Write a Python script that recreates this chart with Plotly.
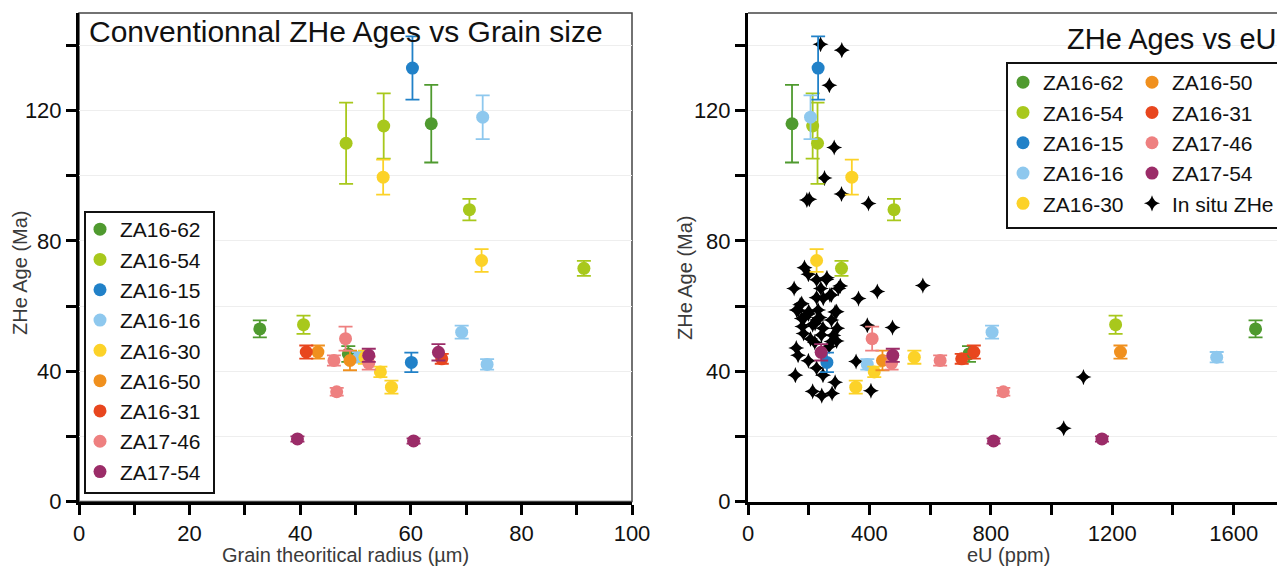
import plotly.graph_objects as go

FONT = "Liberation Sans, Arial, sans-serif"

# ---------------- data ----------------
samples = ["ZA16-62", "ZA16-54", "ZA16-15", "ZA16-16", "ZA16-30",
           "ZA16-50", "ZA16-31", "ZA17-46", "ZA17-54"]
colors = ["#4f9a2f", "#a8c81c", "#2181c8", "#8ec8ee", "#fcd228",
          "#f0901e", "#e8461e", "#ee8080", "#9b2c68"]

za16_62_age = [53.0, 45.3, 116.0]
za16_62_err = [2.6, 2.4, 11.9]
za16_62_radius = [32.7, 48.7, 63.7]
za16_62_eu = [1672, 728, 145]

za16_54_age = [110.0, 115.3, 89.6, 71.6, 54.3]
za16_54_err = [12.5, 10.0, 3.3, 2.3, 2.8]
za16_54_radius = [48.3, 55.1, 70.6, 91.3, 40.6]
za16_54_eu = [229, 213, 481, 308, 1211]

za16_15_age = [133.1, 42.7]
za16_15_err = [9.7, 3.0]
za16_15_radius = [60.3, 60.1]
za16_15_eu = [231, 260]

za16_16_age = [118.0, 52.0, 42.1, 44.3]
za16_16_err = [6.7, 2.0, 1.6, 1.6]
za16_16_radius = [73.0, 69.2, 73.8, 50.6]
za16_16_eu = [206, 804, 393, 1544]

za16_30_age = [99.6, 74.0, 39.8, 35.1, 44.3]
za16_30_err = [5.4, 3.5, 1.6, 2.0, 2.0]
za16_30_radius = [55.0, 72.8, 54.5, 56.5, 51.7]
za16_30_eu = [342, 226, 416, 355, 548]

za16_50_age = [45.9, 43.3]
za16_50_err = [2.0, 3.0]
za16_50_radius = [43.2, 49.0]
za16_50_eu = [1227, 443]

za16_31_age = [45.9, 43.8]
za16_31_err = [2.0, 1.5]
za16_31_radius = [41.1, 65.6]
za16_31_eu = [744, 704]

za17_46_age = [50.0, 43.3, 33.7, 42.5]
za17_46_err = [3.7, 1.6, 1.2, 2.0]
za17_46_radius = [48.2, 46.1, 46.6, 52.4]
za17_46_eu = [409, 633, 841, 473]

za17_54_age = [19.2, 18.6, 45.8, 44.9]
za17_54_err = [0.8, 0.8, 2.5, 2.0]
za17_54_radius = [39.5, 60.5, 65.0, 52.4]
za17_54_eu = [1166, 809, 241, 477]

insitu_eu = [239, 309, 268, 284, 252, 202, 194, 308, 397,
             186, 199, 226, 260, 152, 240, 270, 304, 298, 226, 172, 165, 199,
             186, 236, 287, 179, 213, 247, 294, 281, 159, 165, 206, 220, 292,
             267, 199, 226, 156, 247, 287, 213, 243, 277,
             221, 242, 183, 275, 258, 231, 160, 275, 227, 248, 275, 177, 200,
             292, 177,
             576, 426, 364, 1105, 1040, 405, 356, 393, 476]
insitu_age = [140.4, 138.6, 127.8, 108.7, 99.3, 92.8, 92.6, 94.4, 91.5,
              71.8, 69.8, 68.1, 68.7, 65.4, 65.4, 63.4, 66.2, 65.4, 62.6, 60.4,
              58.7, 57.6, 56.5, 56.5, 58.2, 53.7, 54.3, 53.2, 53.2, 51.0, 47.1,
              44.9, 49.9, 48.8, 49.3, 47.6, 43.2, 41.0, 38.8, 38.8, 36.6, 33.8,
              32.5, 33.2,
              54.7, 51.1, 51.6, 49.1, 68.2, 58.8, 58.8, 55.7, 55.7, 62.4, 63.4,
              60.8, 58.3, 58.3, 56.2,
              66.3, 64.5, 62.3, 38.2, 22.5, 34.0, 43.0, 54.1, 53.4]

ages = [za16_62_age, za16_54_age, za16_15_age, za16_16_age, za16_30_age,
        za16_50_age, za16_31_age, za17_46_age, za17_54_age]
errs = [za16_62_err, za16_54_err, za16_15_err, za16_16_err, za16_30_err,
        za16_50_err, za16_31_err, za17_46_err, za17_54_err]
radii = [za16_62_radius, za16_54_radius, za16_15_radius, za16_16_radius,
         za16_30_radius, za16_50_radius, za16_31_radius, za17_46_radius,
         za17_54_radius]
eus = [za16_62_eu, za16_54_eu, za16_15_eu, za16_16_eu, za16_30_eu,
       za16_50_eu, za16_31_eu, za17_46_eu, za17_54_eu]

# right legend: two columns
right_col1 = ["ZA16-62", "ZA16-54", "ZA16-15", "ZA16-16", "ZA16-30"]
right_col2 = ["ZA16-50", "ZA16-31", "ZA17-46", "ZA17-54", "In situ ZHe"]

x1_tickvals = [0, 10, 20, 30, 40, 50, 60, 70, 80, 90, 100]
x1_ticktext = ["0", "", "20", "", "40", "", "60", "", "80", "", "100"]
x2_tickvals = [0, 200, 400, 600, 800, 1000, 1200, 1400, 1600]
x2_ticktext = ["0", "", "400", "", "800", "", "1200", "", "1600"]
y_tickvals = [0, 20, 40, 60, 80, 100, 120, 140]
y_ticktext = ["0", "", "40", "", "80", "", "120", ""]

# ---------------- figure ----------------
# the page body adds an 8 px margin; the figure is sized to fill the rest
OFF = 8
W, H = 1285 - OFF, 567 - OFF


def px(x):
    return (x - OFF) / W


def py(y):
    return 1 - (y - OFF) / H


fig = go.Figure()


def right_legend(name):
    if name in right_col1:
        return "legend2", right_col1.index(name) + 1
    return "legend3", right_col2.index(name) + 1


lg, rk = right_legend("In situ ZHe")
fig.add_trace(go.Scatter(
    x=insitu_eu, y=insitu_age, mode="markers", name="In situ ZHe",
    marker=dict(symbol="star-diamond", size=11.5, color="black", line=dict(width=0)),
    xaxis="x2", yaxis="y2", legend=lg, legendrank=rk))

for name, col, a, e, r, u in zip(samples, colors, ages, errs, radii, eus):
    fig.add_trace(go.Scatter(
        x=r, y=a, mode="markers", name=name,
        marker=dict(size=13, color=col, line=dict(width=0)),
        error_y=dict(type="data", array=e, color=col, thickness=1.8, width=7),
        xaxis="x", yaxis="y", legend="legend",
        legendrank=samples.index(name) + 1))
    lg, rk = right_legend(name)
    fig.add_trace(go.Scatter(
        x=u, y=a, mode="markers", name=name,
        marker=dict(size=13, color=col, line=dict(width=0)),
        error_y=dict(type="data", array=e, color=col, thickness=1.8, width=7),
        xaxis="x2", yaxis="y2", legend=lg, legendrank=rk))

axis_common = dict(
    showline=True, linewidth=3, linecolor="black",
    ticks="outside", ticklen=10, tickwidth=2.5, tickcolor="black",
    tickfont=dict(family=FONT, size=22, color="#111111"),
    zeroline=False, automargin=False,
)

ydom = [py(501.5), py(13)]
legend_font = dict(family=FONT, size=21, color="#111111")

fig.update_layout(
    width=W, height=H,
    margin=dict(l=0, r=0, t=0, b=0, autoexpand=False),
    paper_bgcolor="white", plot_bgcolor="white",
    font=dict(family=FONT, color="#111111"),
    xaxis=dict(domain=[px(79), px(632)], range=[0, 100],
               tickmode="array", tickvals=x1_tickvals, ticktext=x1_ticktext,
               showgrid=False, anchor="y", **axis_common),
    yaxis=dict(domain=ydom, range=[0, 150],
               tickmode="array", tickvals=y_tickvals, ticktext=y_ticktext,
               showgrid=True, gridcolor="#eeeeee", gridwidth=1, anchor="x",
               **axis_common),
    xaxis2=dict(domain=[px(748), 1.0], range=[0, 1769],
                tickmode="array", tickvals=x2_tickvals, ticktext=x2_ticktext,
                showgrid=False, anchor="y2", **axis_common),
    yaxis2=dict(domain=ydom, range=[0, 150],
                tickmode="array", tickvals=y_tickvals, ticktext=y_ticktext,
                showgrid=True, gridcolor="#eeeeee", gridwidth=1, anchor="x2",
                **axis_common),
    legend=dict(x=px(80), y=py(209), xanchor="left", yanchor="top",
                bgcolor="rgba(0,0,0,0)", borderwidth=0,
                font=legend_font, orientation="v", itemsizing="trace",
                tracegroupgap=0),
    legend2=dict(x=px(1003), y=py(62), xanchor="left", yanchor="top",
                 bgcolor="rgba(0,0,0,0)", borderwidth=0,
                 font=legend_font, orientation="v", itemsizing="trace",
                 tracegroupgap=0),
    legend3=dict(x=px(1132), y=py(62), xanchor="left", yanchor="top",
                 bgcolor="rgba(0,0,0,0)", borderwidth=0,
                 font=legend_font, orientation="v", itemsizing="trace",
                 tracegroupgap=0),
    showlegend=True,
)

# frames (top/right thin borders)
fig.add_shape(type="rect", xref="x domain", yref="y domain", x0=0, x1=1, y0=0, y1=1,
              line=dict(color="#444444", width=1.5), layer="below")
fig.add_shape(type="line", xref="x2 domain", yref="y2 domain", x0=0, x1=1, y0=1, y1=1,
              line=dict(color="#444444", width=1.5), layer="below")
# legend boxes
fig.add_shape(type="rect", xref="paper", yref="paper",
              x0=px(85), x1=px(214), y0=py(493), y1=py(212),
              line=dict(color="#111111", width=2), fillcolor="white", layer="above")
fig.add_shape(type="rect", xref="paper", yref="paper",
              x0=px(1007), x1=px(1283), y0=py(228), y1=py(63),
              line=dict(color="#111111", width=2), fillcolor="white", layer="above")

# titles and axis titles
fig.add_annotation(text="Conventionnal ZHe Ages vs Grain size", xref="paper", yref="paper",
                   x=px(87), y=py(32), xanchor="left", yanchor="middle",
                   showarrow=False, font=dict(family=FONT, size=30, color="#111111"))
fig.add_annotation(text="ZHe Ages vs eU", xref="paper", yref="paper",
                   x=px(1279), y=py(39), xanchor="right", yanchor="middle",
                   showarrow=False, font=dict(family=FONT, size=29, color="#111111"))
fig.add_annotation(text="Grain theoritical radius (µm)", xref="paper", yref="paper",
                   x=px(345), y=py(555), xanchor="center", yanchor="middle",
                   showarrow=False, font=dict(family=FONT, size=20, color="#3a3a3a"))
fig.add_annotation(text="eU (ppm)", xref="paper", yref="paper",
                   x=px(1008), y=py(555), xanchor="center", yanchor="middle",
                   showarrow=False, font=dict(family=FONT, size=20, color="#3a3a3a"))
fig.add_annotation(text="ZHe Age (Ma)", xref="paper", yref="paper", textangle=-90,
                   x=px(20), y=py(273), xanchor="center", yanchor="middle",
                   showarrow=False, font=dict(family=FONT, size=20, color="#3a3a3a"))
fig.add_annotation(text="ZHe Age (Ma)", xref="paper", yref="paper", textangle=-90,
                   x=px(685), y=py(278), xanchor="center", yanchor="middle",
                   showarrow=False, font=dict(family=FONT, size=20, color="#3a3a3a"))

fig.write_html("out.html")
